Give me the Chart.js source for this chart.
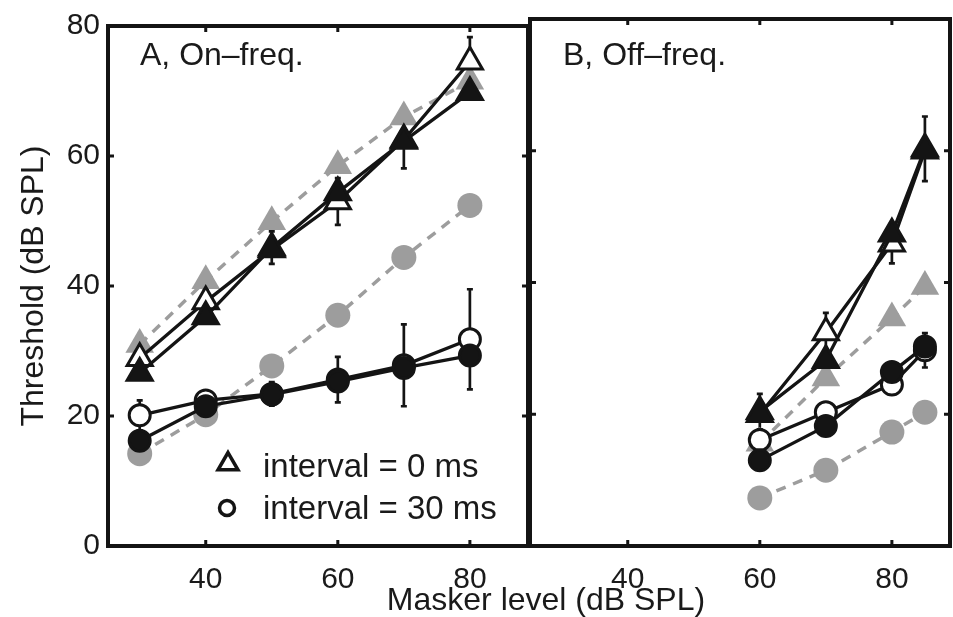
<!DOCTYPE html>
<html>
<head>
<meta charset="utf-8">
<script src="https://cdn.jsdelivr.net/npm/chart.js@4.4.1/dist/chart.umd.min.js"></script>
<style>
  body { margin: 0; background: #fff; width: 953px; height: 617px; overflow: hidden; position: relative;
         font-family: "Liberation Sans", Arial, sans-serif; }
  #wrapA { position: absolute; left: 0; top: 0; }
  #wrapB { position: absolute; left: 500px; top: 0; }
  #xtitle { position: absolute; left: 346px; width: 400px; top: 583px; text-align: center;
            font-size: 32px; line-height: 32px; color: #1a1a1a; white-space: nowrap; }
</style>
</head>
<body>
<div id="wrapA"><canvas id="panelA" width="531" height="617"></canvas></div>
<div id="wrapB"><canvas id="panelB" width="453" height="617"></canvas></div>
<div id="xtitle">Masker level (dB SPL)</div>
<script>
// masker levels
var levelsA = [30, 40, 50, 60, 70, 80];
var levelsB = [60, 70, 80, 85];
var xTicks = [40, 60, 80];

// A, on-frequency : triangles = interval 0 ms, circles = interval 30 ms
var triFilledA = [26.6, 35.3, 45.9, 54.4, 62.3, 69.8];
var triOpenA   = [28.9, 37.6, 45.6, 53.0, 62.5, 74.5];
var triGrayA   = [31.0, 40.8, 49.9, 58.5, 66.0, 71.5];
var errTriFilledA = [0, 0, 2.5, 0, 4.2, 0];
var errTriOpenA   = [2.5, 2.0, 0, 3.6, 0, 3.8];

var circFilledA = [16.2, 21.5, 23.3, 25.3, 27.4, 29.3];
var circOpenA   = [20.1, 22.4, 23.4, 25.6, 27.8, 31.8];
var circGrayA   = [14.2, 20.2, 27.7, 35.5, 44.4, 52.4];
var errCircOpenA = [2.3, 1.2, 1.8, 3.5, 6.3, 7.7];

// B, off-frequency
var triFilledB = [20.4, 28.2, 47.4, 60.3];
var triOpenB   = [20.0, 32.4, 45.9, 60.0];
var triGrayB   = [15.6, 25.5, 34.6, 39.4];
var errTriFilledB = [2.7, 0, 0, 4.9];
var errTriOpenB   = [0, 3, 3, 0];

var circFilledB = [13.0, 18.2, 26.4, 30.3];
var circOpenB   = [16.1, 20.3, 24.5, 29.7];
var circGrayB   = [7.3, 11.5, 17.3, 20.3];
var errCircOpenB = [0, 0, 0, 2.6];

var black = '#141414';
var gray = '#9d9d9d';
var fam = '"Liberation Sans", Arial, sans-serif';
Chart.defaults.font.family = fam;
Chart.defaults.color = '#1a1a1a';

// marker + line styles
var styles = {
  triFilled: { pointStyle: 'triangle', pointRadius: 14.5, pointBackgroundColor: black, pointBorderColor: black, pointBorderWidth: 3, borderColor: black, borderWidth: 3.3 },
  triOpen:   { pointStyle: 'triangle', pointRadius: 14.5, pointBackgroundColor: '#fff', pointBorderColor: black, pointBorderWidth: 3, borderColor: black, borderWidth: 3.3 },
  triGray:   { pointStyle: 'triangle', pointRadius: 16.5, pointBackgroundColor: gray, pointBorderColor: gray, pointBorderWidth: 0, borderColor: gray, borderWidth: 3.5, borderDash: [10, 8] },
  circFilled:{ pointStyle: 'circle', pointRadius: 10.5, pointBackgroundColor: black, pointBorderColor: black, pointBorderWidth: 3, borderColor: black, borderWidth: 3.3 },
  circOpen:  { pointStyle: 'circle', pointRadius: 10.5, pointBackgroundColor: '#fff', pointBorderColor: black, pointBorderWidth: 3, borderColor: black, borderWidth: 3.3 },
  circGray:  { pointStyle: 'circle', pointRadius: 12.5, pointBackgroundColor: gray, pointBorderColor: gray, pointBorderWidth: 0, borderColor: gray, borderWidth: 3.5, borderDash: [10, 8] }
};

function makeSet(xs, ys, errs, style) {
  var ds = { data: xs.map((x, i) => ({ x: x, y: ys[i] })), errors: errs, tension: 0, fill: false };
  Object.keys(style).forEach(k => { ds[k] = style[k]; });
  ds.pointHoverRadius = style.pointRadius;
  return ds;
}

// error bars, drawn under the markers
var errorBars = {
  id: 'errorBars',
  beforeDatasetsDraw(chart) {
    var ctx = chart.ctx, sx = chart.scales.x, sy = chart.scales.y;
    ctx.save();
    ctx.strokeStyle = black;
    ctx.lineWidth = 2.7;
    chart.data.datasets.forEach(ds => {
      if (!ds.errors) return;
      ds.data.forEach((p, i) => {
        var e = ds.errors[i];
        if (!e) return;
        var px = sx.getPixelForValue(p.x);
        var y1 = sy.getPixelForValue(p.y + e), y2 = sy.getPixelForValue(p.y - e);
        ctx.beginPath();
        ctx.moveTo(px, y1); ctx.lineTo(px, y2);
        ctx.moveTo(px - 3, y1); ctx.lineTo(px + 3, y1);
        ctx.moveTo(px - 3, y2); ctx.lineTo(px + 3, y2);
        ctx.stroke();
      });
    });
    ctx.restore();
  }
};

// box round the panel with inward ticks, panel label, legend
var frame = {
  id: 'frame',
  afterDraw(chart, args, opts) {
    var ctx = chart.ctx, a = chart.chartArea, sx = chart.scales.x, sy = chart.scales.y;
    ctx.save();
    ctx.strokeStyle = black;
    ctx.lineWidth = 4;
    ctx.strokeRect(a.left, a.top, a.right - a.left, a.bottom - a.top);
    ctx.lineWidth = 3;
    ctx.beginPath();
    xTicks.forEach(v => {
      var px = sx.getPixelForValue(v);
      ctx.moveTo(px, a.bottom); ctx.lineTo(px, a.bottom - 6);
      ctx.moveTo(px, a.top); ctx.lineTo(px, a.top + 6);
    });
    [20, 40, 60].forEach(v => {
      var py = sy.getPixelForValue(v);
      ctx.moveTo(a.left, py); ctx.lineTo(a.left + 6, py);
      ctx.moveTo(a.right, py); ctx.lineTo(a.right - 6, py);
    });
    ctx.stroke();

    ctx.fillStyle = '#1a1a1a';
    ctx.font = '32px ' + fam;
    ctx.textBaseline = 'alphabetic';
    ctx.fillText(opts.label, a.left + opts.labelDx, 65);

    if (opts.legend) {
      var helpers = Chart.helpers;
      ctx.fillStyle = '#fff';
      ctx.strokeStyle = black;
      ctx.lineWidth = 3.5;
      helpers.drawPoint(ctx, { pointStyle: 'triangle', radius: 11.5, rotation: 0, borderWidth: 3.5 }, 228, 464);
      ctx.fillStyle = '#fff';
      helpers.drawPoint(ctx, { pointStyle: 'circle', radius: 7.5, rotation: 0, borderWidth: 3.5 }, 227, 508);
      ctx.fillStyle = '#1a1a1a';
      ctx.font = '33px ' + fam;
      ctx.fillText('interval = 0 ms', 263, 477);
      ctx.fillText('interval = 30 ms', 263, 519);
    }
    ctx.restore();
  }
};

function xScale() {
  return {
    type: 'linear', min: 25.2, max: 88.8,
    afterBuildTicks: s => { s.ticks = xTicks.map(v => ({ value: v })); },
    afterFit: s => { s.height = 71; },
    grid: { display: false, drawTicks: false },
    border: { display: false },
    ticks: { font: { size: 30 }, padding: 16, color: '#1a1a1a' }
  };
}

new Chart(document.getElementById('panelA'), {
  type: 'line',
  data: {
    datasets: [
      makeSet(levelsA, triFilledA, errTriFilledA, styles.triFilled),
      makeSet(levelsA, circFilledA, null, styles.circFilled),
      makeSet(levelsA, triOpenA, errTriOpenA, styles.triOpen),
      makeSet(levelsA, circOpenA, errCircOpenA, styles.circOpen),
      makeSet(levelsA, triGrayA, null, styles.triGray),
      makeSet(levelsA, circGrayA, null, styles.circGray)
    ]
  },
  options: {
    responsive: false,
    animation: false,
    layout: { autoPadding: false, padding: { left: 0, right: 3, top: 19, bottom: 0 } },
    scales: {
      x: xScale(),
      y: {
        min: 0, max: 80,
        afterFit: s => { s.width = 108; },
        grid: { display: false, drawTicks: false },
        border: { display: false },
        ticks: { stepSize: 20, font: { size: 30 }, padding: 8, color: '#1a1a1a' },
        title: { display: true, text: 'Threshold (dB SPL)', font: { size: 32 }, padding: { top: 15, bottom: 0 }, color: '#1a1a1a' }
      }
    },
    plugins: {
      legend: { display: false },
      tooltip: { enabled: false },
      frame: { label: 'A, On\u2013freq.', labelDx: 32, legend: true }
    }
  },
  plugins: [errorBars, frame]
});

new Chart(document.getElementById('panelB'), {
  type: 'line',
  data: {
    datasets: [
      makeSet(levelsB, triFilledB, errTriFilledB, styles.triFilled),
      makeSet(levelsB, circFilledB, null, styles.circFilled),
      makeSet(levelsB, triOpenB, errTriOpenB, styles.triOpen),
      makeSet(levelsB, circOpenB, errCircOpenB, styles.circOpen),
      makeSet(levelsB, triGrayB, null, styles.triGray),
      makeSet(levelsB, circGrayB, null, styles.circGray)
    ]
  },
  options: {
    responsive: false,
    animation: false,
    layout: { autoPadding: false, padding: { left: 30, right: 3, top: 19, bottom: 0 } },
    scales: {
      x: xScale(),
      y: { min: 0, max: 80, display: false }
    },
    plugins: {
      legend: { display: false },
      tooltip: { enabled: false },
      frame: { label: 'B, Off\u2013freq.', labelDx: 33, legend: false }
    }
  },
  plugins: [errorBars, frame]
});
</script>
</body>
</html>
